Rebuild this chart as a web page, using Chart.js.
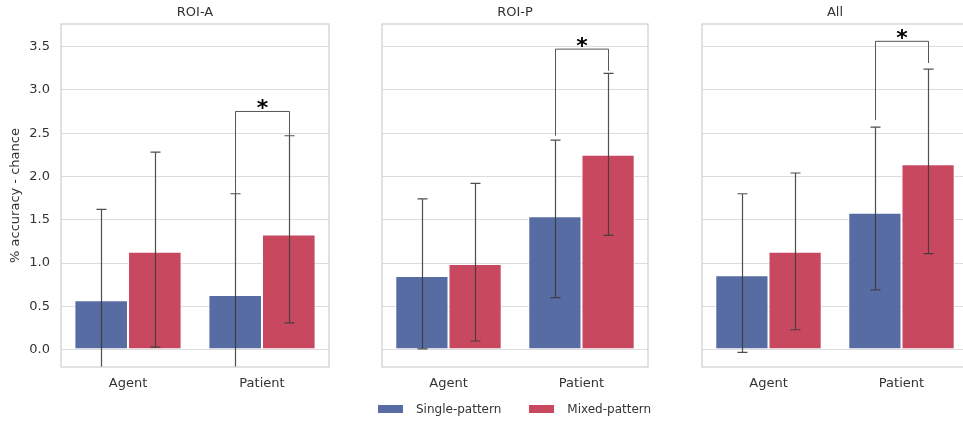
<!DOCTYPE html>
<html>
<head>
<meta charset="utf-8">
<script src="https://cdn.jsdelivr.net/npm/chart.js@4/dist/chart.umd.min.js"></script>
<style>
  html, body { margin: 0; padding: 0; background: #fff; overflow: hidden; }
  body { width: 963px; height: 421px; position: relative; font-family: 'DejaVu Sans', sans-serif; }
  .panel { position: absolute; top: 0; height: 421px; }
  .legend { position: absolute; top: 401px; left: 378px; font-size: 12px; color: #333; white-space: nowrap; }
  .legend span { display: inline-block; vertical-align: middle; }
  .legend .box { width: 25px; height: 8px; margin-right: 13px; }
</style>
</head>
<body>
<div class="panel" style="left:0px;width:340px"><canvas id="panel0" width="340" height="421"></canvas></div>
<div class="panel" style="left:340px;width:320px"><canvas id="panel1" width="320" height="421"></canvas></div>
<div class="panel" style="left:660px;width:320px"><canvas id="panel2" width="320" height="421"></canvas></div>
<div class="legend">
  <span class="box" style="background:#576ca2"></span><span style="margin-right:28px">Single-pattern</span><span class="box" style="background:#c8495f"></span><span>Mixed-pattern</span>
</div>
<script>
// data
var categories = ['Agent', 'Patient'];
var panelTitles = ['ROI-A', 'ROI-P', 'All'];
var seriesNames = ['Single-pattern', 'Mixed-pattern'];
var yTicks = [0, 0.5, 1.0, 1.5, 2.0, 2.5, 3.0, 3.5];

var singleMeans = [[0.57, 0.63], [0.85, 1.54], [0.86, 1.58]];
var mixedMeans  = [[1.13, 1.33], [0.99, 2.25], [1.13, 2.14]];

// error bar ends (low, high)
var singleLow  = [[-0.49, -0.55], [0.01, 0.60], [-0.03, 0.69]];
var singleHigh = [[1.62, 1.80], [1.74, 2.42], [1.80, 2.57]];
var mixedLow   = [[0.03, 0.31], [0.10, 1.32], [0.23, 1.11]];
var mixedHigh  = [[2.28, 2.47], [1.92, 3.19], [2.04, 3.24]];

// significance brackets on Patient: top line, left leg end, right leg end
var bracketTop   = [2.75, 3.47, 3.56];
var bracketLeft  = [1.80, 2.47, 2.65];
var bracketRight = [2.47, 3.22, 3.31];

var blue = '#576ca2';
var red = '#c8495f';
var textColor = '#333333';

Chart.defaults.font.family = "'DejaVu Sans', sans-serif";
Chart.defaults.color = textColor;

var overlay = {
    id: 'overlay',
    afterDatasetsDraw: function(chart) {
        var i = chart.options.plugins.overlay.panel;
        var ctx = chart.ctx;
        var area = chart.chartArea;
        var y = chart.scales.y;
        var lows = [singleLow[i], mixedLow[i]];
        var highs = [singleHigh[i], mixedHigh[i]];

        ctx.save();
        ctx.beginPath();
        ctx.rect(area.left, area.top, area.right - area.left, area.bottom - area.top);
        ctx.clip();

        // error bars
        ctx.strokeStyle = 'rgba(60,60,60,0.9)';
        ctx.lineWidth = 1.2;
        for (var d = 0; d < 2; d++) {
            var meta = chart.getDatasetMeta(d);
            for (var j = 0; j < categories.length; j++) {
                var x = Math.round(meta.data[j].x) + 0.5;
                var y1 = y.getPixelForValue(lows[d][j]);
                var y2 = y.getPixelForValue(highs[d][j]);
                ctx.beginPath();
                ctx.moveTo(x, y1);
                ctx.lineTo(x, y2);
                ctx.moveTo(x - 5, y1);
                ctx.lineTo(x + 5, y1);
                ctx.moveTo(x - 5, y2);
                ctx.lineTo(x + 5, y2);
                ctx.stroke();
            }
        }

        // bracket
        var xl = Math.round(chart.getDatasetMeta(0).data[1].x) + 0.5;
        var xr = Math.round(chart.getDatasetMeta(1).data[1].x) + 0.5;
        var yt = y.getPixelForValue(bracketTop[i]);
        ctx.strokeStyle = '#555555';
        ctx.lineWidth = 1;
        ctx.beginPath();
        ctx.moveTo(xl, y.getPixelForValue(bracketLeft[i]));
        ctx.lineTo(xl, yt);
        ctx.lineTo(xr, yt);
        ctx.lineTo(xr, y.getPixelForValue(bracketRight[i]));
        ctx.stroke();
        ctx.restore();

        ctx.save();
        ctx.fillStyle = '#000';
        ctx.font = "bold 22px 'DejaVu Sans', sans-serif";
        ctx.textAlign = 'center';
        ctx.textBaseline = 'alphabetic';
        ctx.fillText('*', (xl + xr) / 2, yt + 4);
        ctx.restore();
    },
    afterDraw: function(chart) {
        var i = chart.options.plugins.overlay.panel;
        var ctx = chart.ctx;
        var area = chart.chartArea;
        ctx.save();
        ctx.strokeStyle = '#d0d0d0';
        ctx.lineWidth = 1.25;
        ctx.strokeRect(area.left, area.top, area.right - area.left, area.bottom - area.top);
        ctx.fillStyle = textColor;
        ctx.font = "13px 'DejaVu Sans', sans-serif";
        ctx.textAlign = 'center';
        ctx.textBaseline = 'middle';
        ctx.fillText(panelTitles[i], (area.left + area.right) / 2, 13);
        ctx.restore();
    }
};

function makePanel(i, padLeft, padRight, yWidth) {
    var ctx = document.getElementById('panel' + i).getContext('2d');
    new Chart(ctx, {
        type: 'bar',
        data: {
            labels: categories,
            datasets: [{
                label: seriesNames[0],
                data: singleMeans[i],
                backgroundColor: blue,
                borderColor: '#ffffff',
                borderWidth: 1,
                borderSkipped: false
            }, {
                label: seriesNames[1],
                data: mixedMeans[i],
                backgroundColor: red,
                borderColor: '#ffffff',
                borderWidth: 1,
                borderSkipped: false
            }]
        },
        options: {
            responsive: false,
            animation: false,
            layout: { padding: { left: padLeft, right: padRight, top: 24, bottom: 0 } },
            datasets: { bar: { categoryPercentage: 0.8, barPercentage: 1.0 } },
            plugins: {
                legend: { display: false },
                tooltip: { enabled: false },
                overlay: { panel: i }
            },
            scales: {
                x: {
                    grid: { display: false, drawTicks: false },
                    border: { display: false },
                    ticks: { font: { size: 13 }, color: textColor, padding: 9 },
                    afterFit: function(scale) { scale.height = 54; }
                },
                y: {
                    min: -0.2,
                    max: 3.76,
                    grid: { color: '#dcdcdc', lineWidth: 1, drawTicks: false },
                    border: { display: false },
                    afterBuildTicks: function(scale) {
                        scale.ticks = yTicks.map(function(v) { return { value: v }; });
                    },
                    ticks: {
                        display: i === 0,
                        font: { size: 13 },
                        color: textColor,
                        padding: 11,
                        callback: function(v) { return v.toFixed(1); }
                    },
                    title: {
                        display: i === 0,
                        text: '% accuracy - chance',
                        font: { size: 13 },
                        color: textColor,
                        padding: { top: 8, bottom: 0 }
                    },
                    afterFit: function(scale) { scale.width = yWidth; }
                }
            }
        },
        plugins: [overlay]
    });
}

makePanel(0, 0, 11, 61);
makePanel(1, 42, 12, 0);
makePanel(2, 42, 12, 0);
</script>
</body>
</html>
